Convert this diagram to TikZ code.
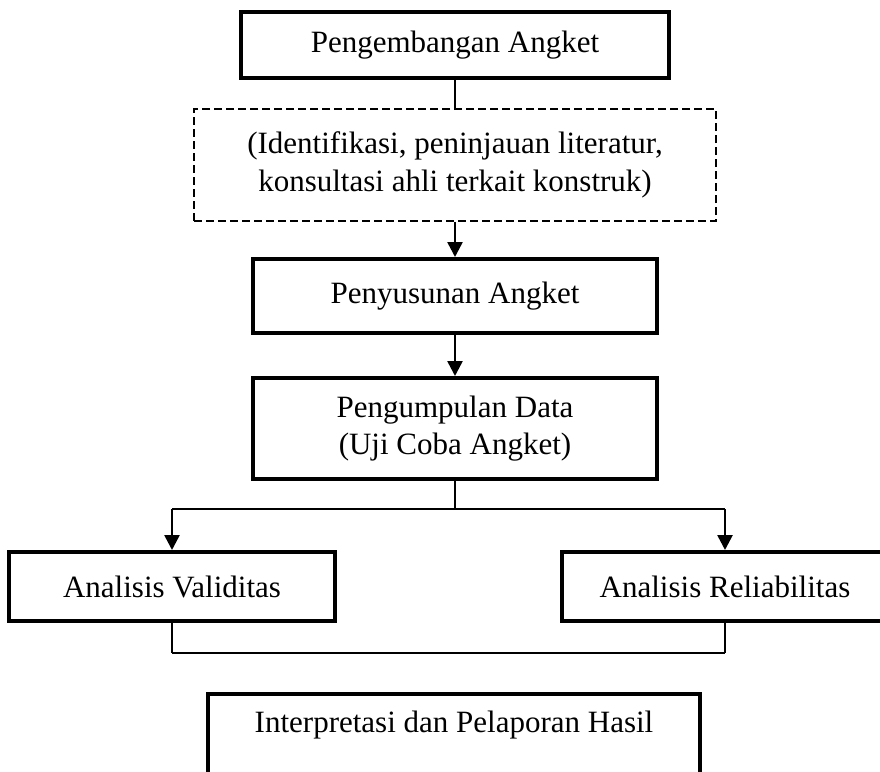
\documentclass[tikz,border=0pt]{standalone}
\usepackage{fontspec}
\setmainfont{Liberation Serif}
\usetikzlibrary{positioning}
\usetikzlibrary{arrows.meta}

\begin{document}
\begin{tikzpicture}[x=1pt,y=-1pt,
    basic/.style={draw,font=\fontsize{31pt}{37.5pt}\selectfont,align=center},
    box/.style={basic,rectangle,line width=4pt,minimum width=404pt},
    dashbox/.style={basic,rectangle,line width=2pt,dash pattern=on 8pt off 4pt},
    link/.style={draw,line width=2.6pt},
    thinlink/.style={draw,line width=1.5pt},
    arrow/.style={link,-{Triangle[length=15pt,width=15pt]}},
]
    \useasboundingbox (0,0) rectangle (880,771);
        \node[box,minimum width=428pt,minimum height=66pt] (dev) at (455,45) {Pengembangan Angket};
        \node[dashbox,minimum width=522pt,minimum height=112pt,below=28pt of dev] (ident)
            {(Identifikasi, peninjauan literatur,\\konsultasi ahli terkait konstruk)};
            \path[link] (dev) -- (ident);
        \node[box,minimum height=74pt,below=35pt of ident] (susun) {Penyusunan Angket};
            \path[arrow] (ident) -- (susun);
        \node[box,minimum height=101pt,below=41pt of susun] (kumpul) {Pengumpulan Data\\(Uji Coba Angket)};
            \path[arrow] (susun) -- (kumpul);
%        the two analyses
        \node[box,minimum width=326pt,minimum height=69pt] (valid) at (172,586.5) {Analisis Validitas};
        \node[box,minimum width=326pt,minimum height=69pt] (reliab) at (725,586.5) {Analisis Reliabilitas};
            \path[link] (kumpul.south) -- ++(0,28) coordinate (split);
            \path[thinlink] (split -| valid) -- (split -| reliab);
            \path[arrow] (split -| valid) -- (valid.north);
            \path[arrow] (split -| reliab) -- (reliab.north);
        \coordinate (join) at (455,653);
            \path[link] (valid.south) -- (valid.south |- join);
            \path[link] (reliab.south) -- (reliab.south |- join);
            \path[thinlink] (valid.south |- join) -- (reliab.south |- join);
%        last box, cut off at the bottom
        \node[box,minimum width=492pt,anchor=north,text height=22pt,text depth=60pt,inner ysep=16pt] (hasil) at (454,692)
            {Interpretasi dan Pelaporan Hasil};
    \end{tikzpicture}
\end{document}
